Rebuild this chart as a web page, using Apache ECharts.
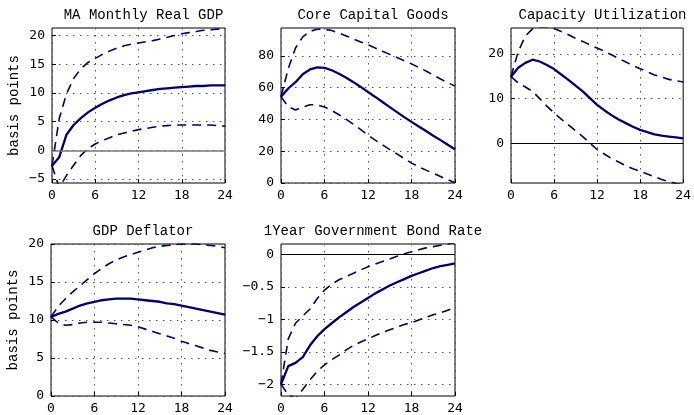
<!DOCTYPE html>
<html>
<head>
<meta charset="utf-8">
<script src="https://cdn.jsdelivr.net/npm/echarts@6/dist/echarts.min.js"></script>
<style>
  html, body { margin: 0; padding: 0; background: #fff; }
  #main { width: 694px; height: 415px; }
</style>
</head>
<body>
<div id="main"></div>
<script>
// horizon (months)
var months = [0,1,2,3,4,5,6,7,8,9,10,11,12,13,14,15,16,17,18,19,20,21,22,23,24];
var xTicks = [0, 6, 12, 18, 24];

var titles = ['MA Monthly Real GDP', 'Core Capital Goods', 'Capacity Utilization', 'GDP Deflator', '1Year Government Bond Rate'];

// MA Monthly Real GDP
var gdpMid = [-2.7,-1.2,2.7,4.4,5.6,6.6,7.4,8.1,8.7,9.2,9.6,9.9,10.1,10.3,10.5,10.7,10.8,10.9,11.0,11.1,11.2,11.2,11.3,11.3,11.3];
var gdpHi  = [-2.7,5.5,9.8,12.5,14.2,15.3,16.0,16.7,17.3,17.8,18.2,18.5,18.7,18.9,19.1,19.4,19.7,20.0,20.3,20.5,20.7,20.9,21.0,21.1,21.2];
var gdpLo  = [-2.7,-6.5,-4.4,-2.6,-0.9,0.3,1.1,1.7,2.2,2.7,3.0,3.3,3.6,3.8,4.0,4.2,4.3,4.4,4.4,4.4,4.4,4.4,4.4,4.3,4.2];
var gdpTicks = [-5, 0, 5, 10, 15, 20];

// Core Capital Goods
var capMid = [54.3,59.5,63.5,68.5,71.5,72.8,72.5,71.0,68.8,66.3,63.5,60.5,57.3,54.2,51.0,47.8,44.6,41.5,38.5,35.6,32.7,29.8,27.0,24.1,21.3];
var capHi  = [54.3,72,85,92,95.5,96.8,96.8,96,94.5,92.6,90.7,88.8,87,85,83,81,79,77,75,72.8,70.5,68,65.5,63.2,61];
var capLo  = [54.3,48,46,47.8,49.3,49.2,47.8,45.6,43,40.1,37,33.6,30.2,27,24,21,18.3,15.4,12.5,10.2,8.1,6.1,4.1,2.1,0.1];
var capTicks = [0, 20, 40, 60, 80];

// Capacity Utilization
var cuMid = [14.9,16.9,18.0,18.7,18.3,17.5,16.6,15.4,14.2,12.9,11.6,10.1,8.6,7.4,6.3,5.3,4.5,3.7,3.0,2.5,2.0,1.7,1.5,1.3,1.1];
var cuHi  = [14.9,20.5,24.0,25.6,26.1,26.1,25.7,25.0,24.3,23.5,22.8,22.0,21.3,20.6,19.8,19.0,18.2,17.4,16.7,16.0,15.3,14.8,14.3,14.0,13.7];
var cuLo  = [14.9,13.5,12.6,11.6,10.0,8.3,6.8,5.4,4.1,2.8,1.5,0.0,-1.4,-2.4,-3.4,-4.2,-5.0,-5.7,-6.3,-6.9,-7.5,-8.1,-8.6,-9.0,-9.3];
var cuTicks = [0, 10, 20];

// GDP Deflator
var defMid = [10.4,10.8,11.1,11.5,11.9,12.2,12.4,12.6,12.7,12.8,12.8,12.8,12.7,12.6,12.5,12.4,12.2,12.1,11.9,11.7,11.5,11.3,11.1,10.9,10.7];
var defHi  = [10.4,11.8,12.8,13.7,14.5,15.3,16.1,16.8,17.4,17.9,18.3,18.6,18.9,19.2,19.5,19.7,19.8,19.9,20.0,20.0,20.0,19.9,19.8,19.7,19.5];
var defLo  = [10.4,9.6,9.3,9.4,9.6,9.7,9.7,9.7,9.6,9.5,9.4,9.3,9.1,8.8,8.5,8.2,7.9,7.6,7.2,6.9,6.6,6.3,6.0,5.8,5.6];
var defTicks = [0, 5, 10, 15, 20];

// 1Year Government Bond Rate
var bondMid = [-2.0,-1.72,-1.67,-1.58,-1.40,-1.26,-1.15,-1.06,-0.97,-0.89,-0.81,-0.74,-0.67,-0.60,-0.54,-0.48,-0.43,-0.38,-0.33,-0.29,-0.25,-0.21,-0.18,-0.16,-0.14];
var bondHi  = [-2.0,-1.3,-1.06,-0.95,-0.84,-0.68,-0.55,-0.46,-0.39,-0.34,-0.29,-0.24,-0.19,-0.15,-0.11,-0.07,-0.03,0.01,0.04,0.07,0.10,0.12,0.14,0.16,0.18];
var bondLo  = [-2.0,-2.16,-2.22,-2.08,-1.93,-1.80,-1.70,-1.62,-1.55,-1.47,-1.40,-1.35,-1.30,-1.25,-1.20,-1.16,-1.12,-1.08,-1.05,-1.01,-0.97,-0.93,-0.90,-0.86,-0.82];
var bondTicks = [-2, -1.5, -1, -0.5, 0];

var navy = '#00006e';
var mono = 'Liberation Mono';

// panel layout: grid box, y range, zero line colour (null = none)
var panels = [
    {grid: {left: 52, top: 28, width: 173, height: 155}, mid: gdpMid, hi: gdpHi, lo: gdpLo, ticks: gdpTicks, min: -5.7, max: 21.3, zero: '#777', zw: 1.6, ylabel: 'basis points'},
    {grid: {left: 281, top: 28, width: 174, height: 155}, mid: capMid, hi: capHi, lo: capLo, ticks: capTicks, min: 0, max: 97.6, zero: null},
    {grid: {left: 511, top: 28, width: 173, height: 155}, mid: cuMid, hi: cuHi, lo: cuLo, ticks: cuTicks, min: -8.9, max: 25.8, zero: '#000', zw: 1},
    {grid: {left: 51, top: 244, width: 174, height: 154}, mid: defMid, hi: defHi, lo: defLo, ticks: defTicks, min: 0, max: 20, zero: null, ylabel: 'basis points'},
    {grid: {left: 281, top: 244, width: 174, height: 154}, mid: bondMid, hi: bondHi, lo: bondLo, ticks: bondTicks, min: -2.18, max: 0.16, zero: '#000', zw: 1}
];

function pairs(ys) {
    var out = [];
    for (var i = 0; i < months.length; i++) {
        out.push([months[i], ys[i]]);
    }
    return out;
}

function fmt(v) {
    return String(v).replace('-', '\u2212');
}

var option = {
    animation: false,
    backgroundColor: '#fff',
    title: [],
    grid: [],
    xAxis: [],
    yAxis: [],
    series: []
};

// MATLAB-like dotted grid
var splitStyle = {show: true, lineStyle: {color: '#555', type: [1.5, 5.5], width: 1}};
var dash = [9, 6];

for (var p = 0; p < panels.length; p++) {
    var pn = panels[p];
    var g = pn.grid;
    option.grid.push({left: g.left, top: g.top, width: g.width, height: g.height,
        show: true, borderColor: '#000', borderWidth: 1, backgroundColor: 'transparent'});

    option.title.push({
        text: titles[p],
        left: g.left + g.width / 2,
        top: g.top - 25,
        textAlign: 'center',
        textStyle: {fontFamily: mono, fontSize: 14, fontWeight: 'normal', color: '#000'}
    });

    option.xAxis.push({
        type: 'value', gridIndex: p, min: 0, max: 24, interval: 6,
        axisLine: {show: false, onZero: false},
        axisTick: {show: true, inside: true, length: 4, lineStyle: {color: '#000'}, customValues: xTicks},
        axisLabel: {margin: 6, fontFamily: 'DejaVu Sans Mono', fontSize: 13, color: '#000', customValues: xTicks},
        splitLine: splitStyle
    });

    option.yAxis.push({
        type: 'value', gridIndex: p, min: pn.min, max: pn.max,
        name: pn.ylabel || '',
        nameLocation: 'middle',
        nameGap: 31,
        nameTextStyle: {fontFamily: mono, fontSize: 14, color: '#000'},
        axisLine: {show: false, onZero: false},
        axisTick: {show: true, inside: true, length: 4, lineStyle: {color: '#000'}, customValues: pn.ticks},
        axisLabel: {margin: 7, fontFamily: 'DejaVu Sans Mono', fontSize: 13, color: '#000', customValues: pn.ticks, formatter: fmt},
        splitLine: splitStyle
    });

    var mainSeries = {
        type: 'line', xAxisIndex: p, yAxisIndex: p, data: pairs(pn.mid),
        showSymbol: false, symbol: 'none', z: 3,
        lineStyle: {color: navy, width: 2.3}
    };
    if (pn.zero) {
        mainSeries.markLine = {
            silent: true, symbol: ['none', 'none'], label: {show: false},
            lineStyle: {color: pn.zero, type: 'solid', width: pn.zw},
            data: [{yAxis: 0}]
        };
    }
    option.series.push(mainSeries);
    option.series.push({
        type: 'line', xAxisIndex: p, yAxisIndex: p, data: pairs(pn.hi),
        showSymbol: false, symbol: 'none', z: 2,
        lineStyle: {color: navy, width: 1.6, type: dash}
    });
    option.series.push({
        type: 'line', xAxisIndex: p, yAxisIndex: p, data: pairs(pn.lo),
        showSymbol: false, symbol: 'none', z: 2,
        lineStyle: {color: navy, width: 1.6, type: dash}
    });
}

var myChart = echarts.init(document.getElementById('main'));
myChart.setOption(option);

window.addEventListener('resize', function () {
    myChart.resize();
});
</script>
</body>
</html>
